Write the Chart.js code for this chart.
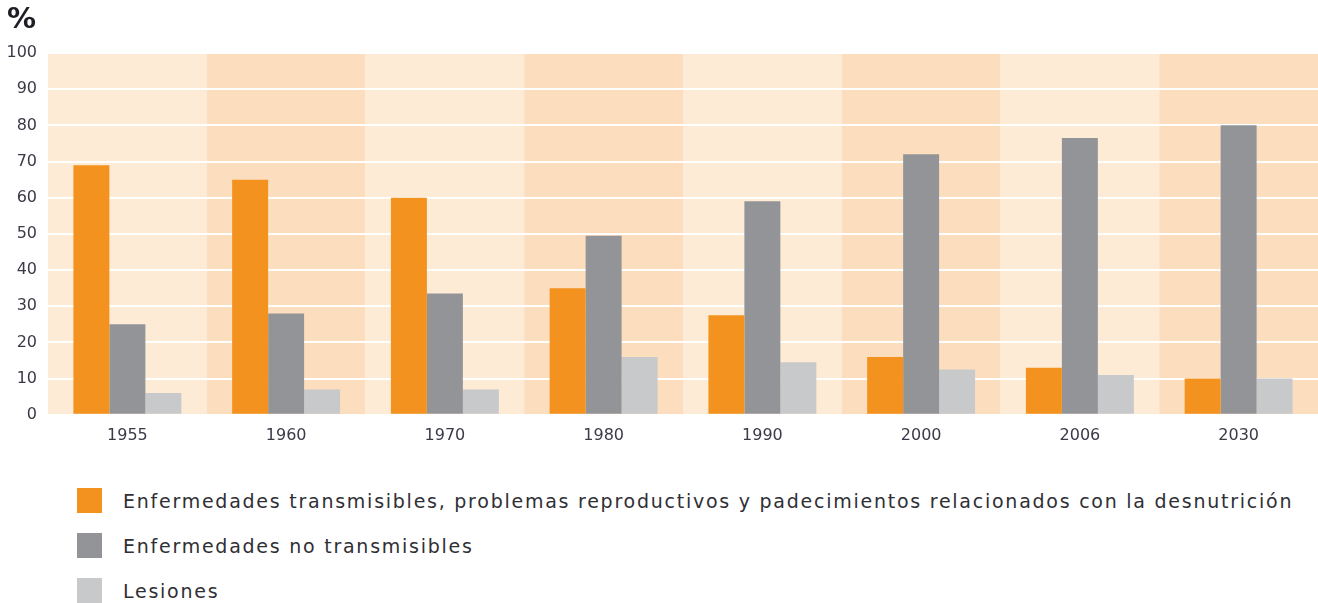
<!DOCTYPE html>
<html>
<head>
<meta charset="utf-8">
<script src="https://cdn.jsdelivr.net/npm/chart.js@4.4.0/dist/chart.umd.min.js"></script>
<style>
    body { margin: 0; background: #ffffff; font-family: 'DejaVu Sans', sans-serif; }
    #wrap { width: 1318px; height: 603px; position: relative; overflow: hidden; }
    #pct { position: absolute; left: 7px; top: 1px; font-size: 29px; font-weight: bold; color: #1e1e24; }
    #legend { position: absolute; left: 77px; top: 478px; }
    .item { display: flex; align-items: center; height: 45px; }
    .box { width: 25px; height: 25px; margin-right: 21px; }
    .txt { font-size: 19px; letter-spacing: 1.75px; color: #2f2f35; white-space: nowrap; }
</style>
</head>
<body>
<div id="wrap">
    <div id="pct">%</div>
    <canvas id="chart" width="1318" height="448"></canvas>
    <div id="legend"></div>
</div>
<script>
// ============================================
// DATA
// ============================================

const years = ['1955', '1960', '1970', '1980', '1990', '2000', '2006', '2030'];

const transmisibles = [69, 65, 60, 35, 27.5, 16, 13, 10];
const noTransmisibles = [25, 28, 33.5, 49.5, 59, 72, 76.5, 80];
const lesiones = [6, 7, 7, 16, 14.5, 12.5, 11, 10];

const seriesLabels = [
    'Enfermedades transmisibles, problemas reproductivos y padecimientos relacionados con la desnutrición',
    'Enfermedades no transmisibles',
    'Lesiones'
];
const seriesColors = ['#F3921F', '#939497', '#C8C9CB'];

const yTicks = [0, 10, 20, 30, 40, 50, 60, 70, 80, 90, 100];

// alternating column backgrounds
const bandColors = ['#FDEBD6', '#FCDEBF'];

// ============================================
// PLUGINS
// ============================================

const bandPlugin = {
    id: 'bands',
    beforeDraw(chart) {
        const { ctx, chartArea, scales } = chart;
        const x = scales.x;
        const step = (chartArea.right - chartArea.left) / years.length;
        ctx.save();
        years.forEach((y, i) => {
            const c = x.getPixelForValue(i);
            ctx.fillStyle = bandColors[i % 2];
            ctx.fillRect(c - step / 2, chartArea.top, step, chartArea.bottom - chartArea.top);
        });
        ctx.restore();
    }
};

// ============================================
// CHART
// ============================================

const datasets = [transmisibles, noTransmisibles, lesiones].map((d, i) => ({
    label: seriesLabels[i],
    data: d,
    backgroundColor: seriesColors[i],
    borderWidth: 0,
    categoryPercentage: 0.68,
    barPercentage: 1
}));

const tickFont = { family: "'DejaVu Sans', sans-serif", size: 16 };

new Chart(document.getElementById('chart'), {
    type: 'bar',
    data: { labels: years, datasets: datasets },
    options: {
        responsive: false,
        animation: false,
        layout: { padding: { left: 0, right: 0, top: 53, bottom: 0 } },
        plugins: {
            legend: { display: false },
            tooltip: { enabled: false },
            title: { display: false }
        },
        scales: {
            x: {
                grid: { display: false },
                border: { display: false },
                ticks: { color: '#3a3a48', font: tickFont, padding: 3 }
            },
            y: {
                min: 0,
                max: 100,
                afterBuildTicks(scale) { scale.ticks = yTicks.map(v => ({ value: v })); },
                afterFit(scale) { scale.width = 48; },
                grid: { color: '#ffffff', lineWidth: 2, drawTicks: false },
                border: { display: false },
                ticks: { color: '#3a3a48', font: tickFont, padding: 11 }
            }
        }
    },
    plugins: [bandPlugin]
});

// legend built from the same series
const legend = document.getElementById('legend');
seriesLabels.forEach((lab, i) => {
    const row = document.createElement('div');
    row.className = 'item';
    row.innerHTML = '<div class="box" style="background:' + seriesColors[i] + '"></div><div class="txt">' + lab + '</div>';
    legend.appendChild(row);
});
</script>
</body>
</html>
